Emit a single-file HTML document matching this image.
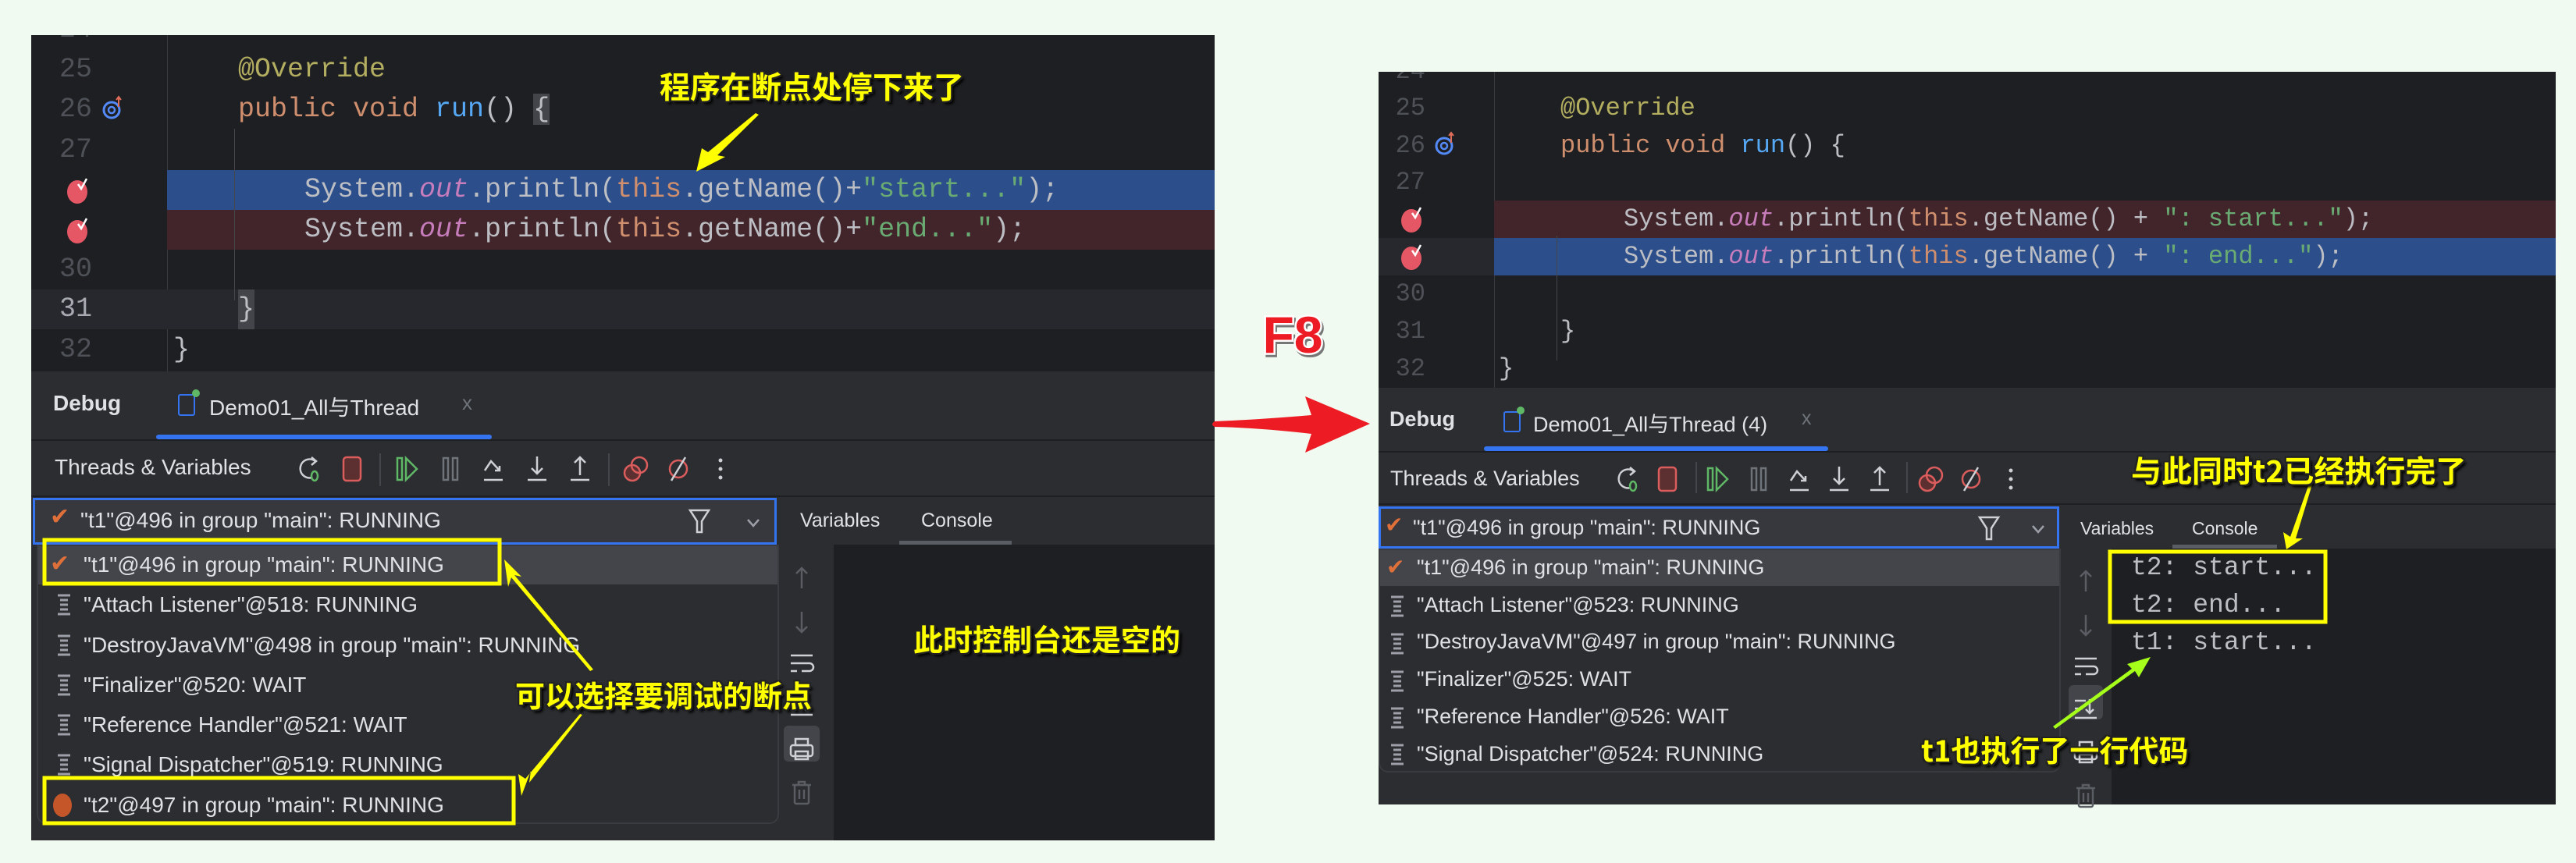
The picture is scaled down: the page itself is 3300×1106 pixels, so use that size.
<!DOCTYPE html>
<html><head><meta charset="utf-8">
<style>
*{margin:0;padding:0;box-sizing:border-box}
body{width:3300px;height:1106px;background:#f0faf0;position:relative;overflow:hidden;font-family:"Liberation Sans","Noto Sans CJK SC",sans-serif}
.p{position:absolute;background:#1e1f22;overflow:hidden}
.a{position:absolute;white-space:nowrap}
.mono{font-family:"Liberation Mono","Noto Sans CJK SC",monospace}
.ln{position:absolute;text-align:right;color:#4e5157}
.k{color:#cf8e6d}.s{color:#6aab73}.o{color:#c77dbb;font-style:italic}.f{color:#56a8f5}.an{color:#b3ae60}.t{color:#bcbec4}
.ui{color:#dfe1e5}
.note{position:absolute;white-space:nowrap;font-family:"Noto Sans CJK SC","WenQuanYi Zen Hei",sans-serif;font-weight:bold;color:#ffff00;
text-shadow:-2px -2px 0 #222,2px -2px 0 #222,-2px 2px 0 #222,2px 2px 0 #222,0 2px 0 #222,2px 0 0 #222,-2px 0 0 #222,0 -2px 0 #222,4px 4px 3px #000}
</style></head><body>

<!-- LEFT PANEL -->
<div class="p" style="left:40px;top:45px;width:1516px;height:1032px">
  <div class="a" style="left:174px;top:0;width:1px;height:431px;background:#393b40"></div>
  <div class="a" style="left:0;top:326px;width:1516px;height:51px;background:#26282e"></div>
  <div class="a" style="left:174px;top:173px;width:1342px;height:51px;background:#2c4f8c"></div>
  <div class="a" style="left:174px;top:224px;width:1342px;height:51px;background:#41252a"></div>
  <div class="a" style="left:260px;top:120px;width:1px;height:220px;background:#44464b"></div>
  <div class="mono" style="position:absolute;left:0;top:0;width:100%;font-size:35px;line-height:51.3px">
    <div class="ln" style="left:20px;width:58px;top:-32px">24</div>
    <div class="ln" style="left:20px;width:58px;top:19px">25</div>
    <div class="ln" style="left:20px;width:58px;top:70px">26</div>
    <div class="ln" style="left:20px;width:58px;top:122px">27</div>
    <div class="ln" style="left:20px;width:58px;top:275px">30</div>
    <div class="ln" style="left:20px;width:58px;top:326px;color:#a7aab0">31</div>
    <div class="ln" style="left:20px;width:58px;top:378px">32</div>
    <div class="a an" style="left:265px;top:19px">@Override</div>
    <div class="a" style="left:265px;top:70px"><span class="k">public void </span><span class="f">run</span><span class="t">() </span><span class="t" style="background:#43454a">{</span></div>
    <div class="a t" style="left:350px;top:173px">System.<span class="o">out</span>.println(<span class="k">this</span>.getName()+<span class="s">"start..."</span>);</div>
    <div class="a t" style="left:350px;top:224px">System.<span class="o">out</span>.println(<span class="k">this</span>.getName()+<span class="s">"end..."</span>);</div>
    <div class="a t" style="left:265px;top:326px;background:#43454a">}</div>
    <div class="a t" style="left:182px;top:378px">}</div>
  </div>
  <div class="a" style="left:0;top:431px;width:1516px;height:601px;background:#2b2d30"></div>
  <div class="a ui" style="left:28px;top:456px;font-size:28px;font-weight:bold">Debug</div>
  <div class="a" style="left:188px;top:460px;width:22px;height:28px;border:2px solid #3574f0;border-radius:3px"></div>
  <div class="a" style="left:206px;top:454px;width:10px;height:10px;border-radius:50%;background:#5fb865"></div>
  <div class="a ui" style="left:228px;top:456px;font-size:28px">Demo01_All与Thread</div>
  <div class="a" style="left:552px;top:456px;font-size:26px;color:#6f737a">x</div>
  <div class="a" style="left:160px;top:512px;width:430px;height:6px;border-radius:3px;background:#3574f0"></div>
  <div class="a" style="left:0;top:518px;width:1516px;height:2px;background:#1e1f22"></div>
  <div class="a ui" style="left:30px;top:538px;font-size:28px">Threads &amp; Variables</div>
  <div class="a" style="left:446px;top:536px;width:2px;height:42px;background:#43454a"></div>
  <div class="a" style="left:739px;top:536px;width:2px;height:42px;background:#43454a"></div>
  <div class="a" style="left:0;top:590px;width:1516px;height:2px;background:#1e1f22"></div>
  <div class="a" style="left:2px;top:593px;width:953px;height:60px;border:3px solid #3574f0;background:#36383d"></div>
  <div class="a ui" style="left:63px;top:606px;font-size:28px">"t1"@496 in group "main": RUNNING</div>
  <div class="a" style="left:24px;top:600px;font-size:30px;color:#e0703a">✔</div>
  <div class="a ui" style="left:985px;top:608px;font-size:25px">Variables</div>
  <div class="a ui" style="left:1140px;top:608px;font-size:25px">Console</div>
  <div class="a" style="left:1112px;top:648px;width:144px;height:5px;background:#5a5d63"></div>
  <div class="a" style="left:958px;top:653px;width:558px;height:379px;background:#1e1f22"></div>
  <div class="a" style="left:958px;top:653px;width:70px;height:379px;background:#2b2d30"></div>
  <div class="a" style="left:964px;top:885px;width:46px;height:46px;border-radius:6px;background:#43454a"></div>
  <div class="a" style="left:7px;top:653px;width:951px;height:358px;background:#2b2d30;border:2px solid #393b40;border-radius:0 0 12px 12px"></div>
  <div class="a" style="left:9px;top:655px;width:947px;height:49px;background:#43454a"></div>
  <div class="ui" style="position:absolute;left:67px;top:653px;font-size:28px;line-height:51.3px">
    <div>"t1"@496 in group "main": RUNNING</div>
    <div>"Attach Listener"@518: RUNNING</div>
    <div>"DestroyJavaVM"@498 in group "main": RUNNING</div>
    <div>"Finalizer"@520: WAIT</div>
    <div>"Reference Handler"@521: WAIT</div>
    <div>"Signal Dispatcher"@519: RUNNING</div>
    <div>"t2"@497 in group "main": RUNNING</div>
  </div>
  <div class="a" style="left:24px;top:660px;font-size:30px;color:#e0703a">✔</div>
  <div class="a" style="left:28px;top:972px;width:24px;height:30px;border-radius:50%;background:#c4562a"></div>
</div>

<!-- RIGHT PANEL -->
<div class="p" style="left:1766px;top:92px;width:1508px;height:939px">
  <div class="a" style="left:148px;top:0;width:1px;height:405px;background:#393b40"></div>
  <div class="a" style="left:0;top:213px;width:148px;height:48px;background:#26282e"></div>
  <div class="a" style="left:148px;top:165px;width:1360px;height:48px;background:#41252a"></div>
  <div class="a" style="left:148px;top:213px;width:1360px;height:48px;background:#2c4f8c"></div>
  <div class="a" style="left:228px;top:210px;width:1px;height:160px;background:#44464b"></div>
  <div class="mono" style="position:absolute;left:0;top:0;width:100%;font-size:32px;line-height:47.6px">
    <div class="ln" style="left:10px;width:50px;top:-24px">24</div>
    <div class="ln" style="left:10px;width:50px;top:23px">25</div>
    <div class="ln" style="left:10px;width:50px;top:71px">26</div>
    <div class="ln" style="left:10px;width:50px;top:118px">27</div>
    <div class="ln" style="left:10px;width:50px;top:261px">30</div>
    <div class="ln" style="left:10px;width:50px;top:309px">31</div>
    <div class="ln" style="left:10px;width:50px;top:357px">32</div>
    <div class="a an" style="left:233px;top:23px">@Override</div>
    <div class="a" style="left:233px;top:71px"><span class="k">public void </span><span class="f">run</span><span class="t">() {</span></div>
    <div class="a t" style="left:314px;top:165px">System.<span class="o">out</span>.println(<span class="k">this</span>.getName() + <span class="s">": start..."</span>);</div>
    <div class="a t" style="left:314px;top:213px">System.<span class="o">out</span>.println(<span class="k">this</span>.getName() + <span class="s">": end..."</span>);</div>
    <div class="a t" style="left:233px;top:309px">}</div>
    <div class="a t" style="left:154px;top:357px">}</div>
  </div>
  <div class="a" style="left:0;top:405px;width:1508px;height:534px;background:#2b2d30"></div>
  <div class="a ui" style="left:14px;top:430px;font-size:27px;font-weight:bold">Debug</div>
  <div class="a" style="left:160px;top:435px;width:22px;height:27px;border:2px solid #3574f0;border-radius:3px"></div>
  <div class="a" style="left:177px;top:429px;width:10px;height:10px;border-radius:50%;background:#5fb865"></div>
  <div class="a ui" style="left:198px;top:430px;font-size:27px">Demo01_All与Thread (4)</div>
  <div class="a" style="left:542px;top:430px;font-size:25px;color:#6f737a">x</div>
  <div class="a" style="left:135px;top:480px;width:441px;height:6px;border-radius:3px;background:#3574f0"></div>
  <div class="a" style="left:0;top:486px;width:1508px;height:2px;background:#1e1f22"></div>
  <div class="a ui" style="left:15px;top:506px;font-size:27px">Threads &amp; Variables</div>
  <div class="a" style="left:406px;top:500px;width:2px;height:40px;background:#43454a"></div>
  <div class="a" style="left:676px;top:500px;width:2px;height:40px;background:#43454a"></div>
  <div class="a" style="left:0;top:553px;width:1508px;height:2px;background:#1e1f22"></div>
  <div class="a" style="left:0;top:557px;width:872px;height:54px;border:3px solid #3574f0;background:#36383d"></div>
  <div class="a ui" style="left:44px;top:569px;font-size:27px">"t1"@496 in group "main": RUNNING</div>
  <div class="a" style="left:8px;top:564px;font-size:28px;color:#e0703a">✔</div>
  <div class="a ui" style="left:899px;top:572px;font-size:23px">Variables</div>
  <div class="a ui" style="left:1042px;top:572px;font-size:23px">Console</div>
  <div class="a" style="left:1017px;top:606px;width:134px;height:5px;background:#5a5d63"></div>
  <div class="a" style="left:874px;top:611px;width:634px;height:328px;background:#1e1f22"></div>
  <div class="a" style="left:874px;top:611px;width:65px;height:328px;background:#2b2d30"></div>
  <div class="a" style="left:884px;top:786px;width:44px;height:44px;border-radius:6px;background:#43454a"></div>
  <div class="a" style="left:0;top:611px;width:874px;height:287px;background:#2b2d30;border:2px solid #393b40;border-radius:0 0 12px 12px"></div>
  <div class="a" style="left:2px;top:613px;width:870px;height:46px;background:#43454a"></div>
  <div class="ui" style="position:absolute;left:49px;top:612px;font-size:27px;line-height:47.7px">
    <div>"t1"@496 in group "main": RUNNING</div>
    <div>"Attach Listener"@523: RUNNING</div>
    <div>"DestroyJavaVM"@497 in group "main": RUNNING</div>
    <div>"Finalizer"@525: WAIT</div>
    <div>"Reference Handler"@526: WAIT</div>
    <div>"Signal Dispatcher"@524: RUNNING</div>
  </div>
  <div class="a" style="left:10px;top:618px;font-size:28px;color:#e0703a">✔</div>
  <div class="mono t" style="position:absolute;left:964px;top:612px;font-size:33px;line-height:48px">
    <div>t2: start...</div><div>t2: end...</div><div>t1: start...</div>
  </div>
</div>

<svg width="3300" height="1106" style="position:absolute;left:0;top:0" xmlns="http://www.w3.org/2000/svg">
<defs>
  <g id="rerun"><path d="M8,-10 A12,12 0 1 0 4,11" fill="none" stroke="#ced0d6" stroke-width="2.5"/><path d="M3,-15 L9,-10 L3,-5" fill="none" stroke="#ced0d6" stroke-width="2.5"/><ellipse cx="7" cy="9" rx="4" ry="6" fill="none" stroke="#5fb865" stroke-width="2.5"/></g>
  <g id="stop"><rect x="-11" y="-15" width="22" height="30" rx="4" fill="#5c3030" stroke="#db5c5c" stroke-width="2.5"/></g>
  <g id="resume"><rect x="-12" y="-14" width="6" height="28" fill="none" stroke="#5fb865" stroke-width="2.5"/><path d="M-1,-14 L13,0 L-1,14 Z" fill="none" stroke="#5fb865" stroke-width="2.5"/></g>
  <g id="pause"><rect x="-9" y="-14" width="6" height="28" fill="none" stroke="#6f737a" stroke-width="2.5"/><rect x="3" y="-14" width="6" height="28" fill="none" stroke="#6f737a" stroke-width="2.5"/></g>
  <g id="over"><path d="M-11,2 L-3,-10 L8,2 M2,2 L8,2 L8,-4" fill="none" stroke="#ced0d6" stroke-width="2.5"/><path d="M-12,14 L12,14" stroke="#ced0d6" stroke-width="2.5"/></g>
  <g id="into"><path d="M0,-16 L0,6 M-7,-1 L0,6 L7,-1 M-12,14 L12,14" fill="none" stroke="#ced0d6" stroke-width="2.5"/></g>
  <g id="out"><path d="M0,8 L0,-15 M-7,-8 L0,-15 L7,-8 M-12,14 L12,14" fill="none" stroke="#ced0d6" stroke-width="2.5"/></g>
  <g id="bps"><circle cx="-4" cy="5" r="10" fill="#5c3030" stroke="#db5c5c" stroke-width="2.5"/><circle cx="5" cy="-5" r="10" fill="none" stroke="#db5c5c" stroke-width="2.5"/></g>
  <g id="mute"><circle cx="0" cy="0" r="11" fill="none" stroke="#db5c5c" stroke-width="2.5"/><path d="M-9,15 L9,-15" stroke="#ced0d6" stroke-width="2.5"/></g>
  <g id="dots"><circle cx="0" cy="-11" r="2.5" fill="#ced0d6"/><circle cx="0" cy="0" r="2.5" fill="#ced0d6"/><circle cx="0" cy="11" r="2.5" fill="#ced0d6"/></g>
  <g id="bp"><ellipse cx="0" cy="2" rx="13" ry="15" fill="#e55765"/><path d="M1,-8 L5,-2 L12,-15" fill="none" stroke="#fff" stroke-width="2.5"/></g>
  <g id="ov"><circle cx="0" cy="0" r="10" fill="none" stroke="#548af7" stroke-width="3"/><circle cx="0" cy="0" r="4" fill="none" stroke="#548af7" stroke-width="2.5"/><path d="M9,-4 L9,-16 M6,-13 L9,-17 L12,-13" fill="none" stroke="#e06c5a" stroke-width="2"/></g>
  <g id="thr"><path d="M-8,-12 L8,-12 M-8,12 L8,12 M-5,-6 L5,-6 M-5,0 L5,0 M-5,6 L5,6" stroke="#9da0a8" stroke-width="3"/></g>
  <g id="filt"><path d="M-12,-14 L12,-14 L3,0 L3,14 L-3,14 L-3,0 Z" fill="none" stroke="#ced0d6" stroke-width="2.5"/></g>
  <g id="chev"><path d="M-7,-4 L0,4 L7,-4" fill="none" stroke="#9da0a8" stroke-width="2.5"/></g>
  <g id="side">
    <path d="M0,-12 L0,14 M-7,-5 L0,-12 L7,-5" transform="translate(0,40)" fill="none" stroke="#5a5d63" stroke-width="2.5"/>
    <path d="M0,-12 L0,14 M-7,7 L0,14 L7,7" transform="translate(0,96)" fill="none" stroke="#5a5d63" stroke-width="2.5"/>
    <path d="M-14,-10 L14,-10 M-14,0 L10,0 A5,5 0 0 1 10,10 L0,10 M-14,10 L-6,10" transform="translate(0,150)" fill="none" stroke="#ced0d6" stroke-width="2.5"/>
    <path d="M-14,-10 L0,-10 M-14,0 L-4,0 M5,-12 L5,6 M0,1 L5,6 L10,1 M-14,12 L14,12" transform="translate(0,204)" fill="none" stroke="#ced0d6" stroke-width="2.5"/>
    <g transform="translate(0,261)" fill="none" stroke="#ced0d6" stroke-width="2.5"><rect x="-8" y="-14" width="16" height="8"/><rect x="-14" y="-6" width="28" height="14" rx="3"/><rect x="-8" y="2" width="16" height="10"/></g>
    <g transform="translate(0,316)" fill="none" stroke="#5a5d63" stroke-width="2.5"><path d="M-12,-10 L12,-10 M-4,-10 L-4,-14 L4,-14 L4,-10"/><rect x="-9" y="-10" width="18" height="24" rx="2"/><path d="M-3,-4 L-3,8 M3,-4 L3,8"/></g>
  </g>
</defs>
<g transform="translate(0,601)"><use href="#rerun" x="396"/><use href="#stop" x="451"/><use href="#resume" x="521"/><use href="#pause" x="577"/><use href="#over" x="632"/><use href="#into" x="688"/><use href="#out" x="743"/><use href="#bps" x="814"/><use href="#mute" x="869"/><use href="#dots" x="923"/></g>
<g transform="translate(0,614)"><use href="#rerun" x="2085"/><use href="#stop" x="2136"/><use href="#resume" x="2200"/><use href="#pause" x="2253"/><use href="#over" x="2305"/><use href="#into" x="2356"/><use href="#out" x="2408"/><use href="#bps" x="2473"/><use href="#mute" x="2525"/><use href="#dots" x="2576"/></g>
<use href="#bp" x="99" y="244"/><use href="#bp" x="99" y="295"/><use href="#ov" x="143" y="141"/>
<use href="#bp" x="1808" y="281"/><use href="#bp" x="1808" y="329"/><use href="#ov" x="1850" y="187"/>
<use href="#filt" x="896" y="668"/><use href="#chev" x="965" y="670"/>
<use href="#filt" x="2548" y="677"/><use href="#chev" x="2611" y="678"/>
<g><use href="#thr" x="82" y="775"/><use href="#thr" x="82" y="827"/><use href="#thr" x="82" y="878"/><use href="#thr" x="82" y="929"/><use href="#thr" x="82" y="980"/></g>
<g><use href="#thr" x="1790" y="777"/><use href="#thr" x="1790" y="825"/><use href="#thr" x="1790" y="873"/><use href="#thr" x="1790" y="920"/><use href="#thr" x="1790" y="967"/></g>
<use href="#side" x="1027" y="700"/>
<use href="#side" x="2672" y="704"/>

<rect x="57" y="692" width="583" height="56" fill="none" stroke="#ffff00" stroke-width="5"/>
<rect x="57" y="997" width="601" height="58" fill="none" stroke="#ffff00" stroke-width="5"/>
<rect x="2703" y="707" width="276" height="90" fill="none" stroke="#ffff00" stroke-width="5"/>
<g fill="#ffff00">
<path d="M968,145 L972,147 L919,199 L929,201 L892,220 L899,190 L907,195 Z"/>
<path d="M760,858 L756,860 L655,740 L651,752 L646,717 L668,739 L659,737 Z"/>
<path d="M743,915 L746,916 L678,1003 L680,988 L668,1020 L664,992 L673,998 Z"/>
<path d="M2958,620 L2962,621 L2941,690 L2950,690 L2929,704 L2925,682 L2934,688 Z"/>
</g>
<path d="M2630,931 L2633,934 L2735,860 L2740,868 L2755,842 L2725,851 L2731,857 Z" fill="#a6ff1a"/>
<path d="M1556,540 Q1610,538 1680,532 L1672,508 L1755,543 L1672,580 L1680,556 Q1610,548 1556,547 Q1550,544 1556,540 Z" fill="#ed1c24"/>
<text x="1656" y="452" text-anchor="middle" font-family="Liberation Sans,sans-serif" font-weight="bold" font-size="66" fill="#ed1c24" stroke="#fff" stroke-width="5" paint-order="stroke" style="filter:drop-shadow(2px 3px 0 #777)">F8</text>
</svg>

<div class="note" style="left:845px;top:82px;font-size:39px">程序在断点处停下来了</div>
<div class="note" style="left:1170px;top:790px;font-size:38px">此时控制台还是空的</div>
<div class="note" style="left:660px;top:862px;font-size:38px">可以选择要调试的断点</div>
<div class="note" style="left:2730px;top:574px;font-size:39px">与此同时t2已经执行完了</div>
<div class="note" style="left:2461px;top:932px;font-size:38px">t1也执行了一行代码</div>
</body></html>
